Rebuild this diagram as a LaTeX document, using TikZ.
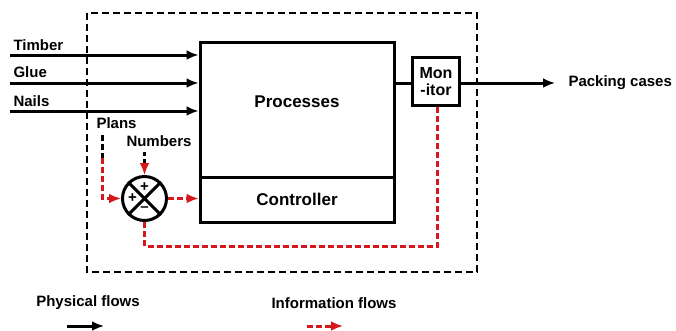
\documentclass[tikz,border=0pt]{standalone}
\usepackage{fontspec}
\setmainfont{Liberation Sans}
\usetikzlibrary{arrows.meta}
\definecolor{infored}{RGB}{214,24,28}

\begin{document}
\begin{tikzpicture}[>={Latex[length=12pt,width=10pt]}, x=1pt, y=-1pt, line width=3pt,
   lbl/.style={font=\fontsize{15}{16}\bfseries, inner sep=0pt},
   big/.style={font=\fontsize{17}{18}\bfseries, inner sep=0pt},
   box/.style={draw, rectangle, inner sep=0pt},
   sign/.style={font=\fontsize{15}{15}\bfseries, inner sep=0pt},
   info/.style={draw=infored, dash pattern=on 6pt off 3pt},
   infotip/.style={info, ->, color=infored}]
   \useasboundingbox (0,0) rectangle (676,330);

   % boundary of the system
   \draw[dash pattern=on 7pt off 4pt, line width=2.6pt] (87,13) rectangle (477,272);

   \node[box, minimum width=194pt, minimum height=135pt] (proc) at (297,109.5) {};
   \node[big] (proclbl) at (297,102) {Processes};
   \node[big, box, minimum width=194pt, minimum height=45pt] (ctrl) at (297,199.5) {Controller};
   \node[lbl, box, minimum width=47pt, minimum height=48pt, align=center,
         font=\fontsize{16}{17}\bfseries] (mon) at (436,81.5) {Mon\\-itor};

   \node[draw, circle, minimum size=44pt, inner sep=0pt] (cmp) at (144.5,198.5) {};
   \draw (cmp.north west) -- (cmp.south east);
   \draw (cmp.north east) -- (cmp.south west);
   \node[sign] (plus1) at (144.5,187) {+};
   \node[sign] (plus2) at (132.5,198.5) {+};
   \node[sign] (minus) at (144.5,209) {--};

   % inputs
   \node[lbl, anchor=base west] (timber) at (12,50) {Timber};
   \node[lbl, anchor=base west] (glue) at (12,77) {Glue};
   \node[lbl, anchor=base west] (nails) at (12,106) {Nails};
   \coordinate (t0) at (10,55);
   \coordinate (g0) at (10,83);
   \coordinate (n0) at (10,111);
   \draw [->] (t0) -- (t0 -| proc.west) ;
   \draw [->] (g0) -- (g0 -| proc.west) ;
   \draw [->] (n0) -- (n0 -| proc.west) ;

   % output
   \node[lbl, anchor=west] (out) at (567,83) {Packing cases};
   \draw (proc.east |- g0) -- (mon.west |- g0) ;
   \draw [->] (mon.east |- g0) -- ([xshift=-12pt]out.west) ;

   % information flows
   \node[lbl, anchor=base west] (plans) at (95,128) {Plans};
   \node[lbl, anchor=base west] (numbers) at (125,146) {Numbers};
   \coordinate (p0) at (102,135);
   \coordinate (p1) at (102,158);
   \coordinate (q0) at (144.5,152);
   \coordinate (q1) at (144.5,165);
   \draw [dash pattern=on 6pt off 3pt] (p0) -- (p1) ;
   \draw [infotip] (p1) |- (cmp.west) ;
   \draw [dash pattern=on 4pt off 3pt] (q0) -- (q1) ;
   \draw [infotip] (q1) -- (cmp.north) ;
   \draw [infotip] (cmp.east) -- (cmp.east -| ctrl.west) ;
   \coordinate (fb) at (437,246);
   \draw [info] (cmp.south) |- (fb) -- (fb |- mon.south) ;

   % key
   \node[lbl] (phys) at (88,303) {Physical flows};
   \node[lbl] (infol) at (334,303) {Information flows};
   \coordinate (ka) at (67,326);
   \coordinate (kb) at (104,326);
   \coordinate (kc) at (307,326);
   \coordinate (kd) at (343,326);
   \draw [->] (ka) -- (kb) ;
   \draw [infotip] (kc) -- (kd) ;
\end{tikzpicture}
\end{document}
